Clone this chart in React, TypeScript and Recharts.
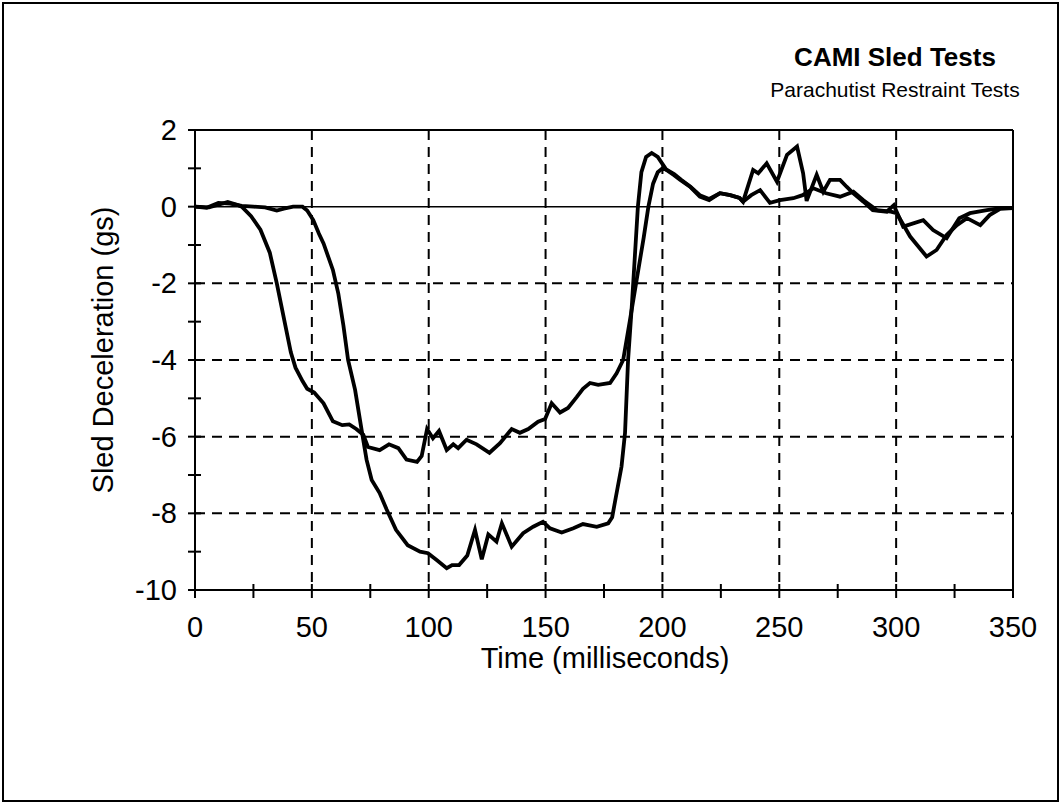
import React from "react";
import { LineChart, Line, XAxis, YAxis, CartesianGrid, ReferenceLine } from "recharts";

// Test with the early onset (shallower plateau around -6 g)
const timeA = [
  0, 6, 10, 14, 18, 20, 24, 28, 32, 35, 37, 39, 41, 43, 46, 48, 51, 55, 59, 63,
  66, 69, 72, 74, 79, 83, 87, 90.5, 95, 97, 99.3, 101.8, 104.4, 107.7, 110.5, 112.6, 116.2, 120.5, 126, 130.5,
  135.5, 139, 142.6, 146.8, 149.8, 152.6, 156.2, 159.6, 163.3, 166, 169, 172.5, 177.6, 180.4, 183.2, 186, 189, 192, 194, 196,
  198, 200, 202, 205, 208, 212, 216, 220, 224.6, 229, 233, 234.5, 238, 241.8, 246, 250.3, 256, 260, 264.6, 270,
  276, 281.7, 286, 291.7, 297.7, 300.2, 306, 313, 317.3, 321.6, 326, 330.3, 336, 340, 344.5, 350,
];
const decelA = [
  0, -0.02, 0.05, 0.12, 0.05, 0, -0.25, -0.6, -1.2, -2.0, -2.6, -3.2, -3.8, -4.2, -4.55, -4.75, -4.85, -5.13, -5.6, -5.7,
  -5.68, -5.8, -5.95, -6.27, -6.35, -6.2, -6.3, -6.6, -6.66, -6.5, -5.8, -6.04, -5.85, -6.35, -6.2, -6.3, -6.08, -6.2, -6.42, -6.17,
  -5.8, -5.9, -5.8, -5.61, -5.54, -5.13, -5.37, -5.25, -4.97, -4.75, -4.6, -4.65, -4.6, -4.35, -4.0, -3.0, -1.9, -0.8, 0, 0.6,
  0.9, 1.0, 0.96, 0.85, 0.7, 0.52, 0.3, 0.2, 0.35, 0.3, 0.23, 0.13, 0.3, 0.43, 0.1, 0.17, 0.22, 0.3, 0.48, 0.35,
  0.26, 0.39, 0.17, -0.09, -0.13, -0.17, -0.78, -1.3, -1.13, -0.74, -0.48, -0.3, -0.48, -0.22, -0.06, -0.04,
];

// Test with the late onset (deep plateau around -8.5 g)
const timeB = [
  0, 5, 10, 15, 20, 25, 30, 35, 38, 42, 46, 48, 50.6, 53, 55, 59, 61.3, 63.5, 65.5, 68.5,
  71.3, 73.4, 75.6, 79, 82, 86, 91, 96.3, 99.7, 103.4, 107.7, 110, 113, 116.5, 119.8, 122.7, 125.5, 129, 131.3, 135.5,
  140.4, 144.7, 148.9, 151.9, 156.9, 161.9, 166, 171.9, 176.8, 178.5, 180, 182.5, 184, 185.3, 187, 188.5, 189.5, 191, 193, 195.4,
  198, 201.7, 205, 207.5, 211.8, 216, 220, 224.6, 229, 233, 234.5, 238.8, 241, 244.6, 249, 253.3, 257.6, 260.2, 261.7, 266,
  268.8, 271.7, 276, 278.8, 281.7, 286, 290, 296, 299, 303, 311.6, 315.8, 321.6, 327, 331.6, 338.8, 344.5, 350,
];
const decelB = [
  0, -0.03, 0.1, 0.08, 0.02, 0, -0.02, -0.1, -0.05, 0, 0, -0.1, -0.35, -0.7, -0.96, -1.65, -2.26, -3.1, -4.0, -4.78,
  -5.83, -6.6, -7.13, -7.47, -7.9, -8.43, -8.83, -9.0, -9.04, -9.22, -9.43, -9.35, -9.35, -9.1, -8.43, -9.2, -8.55, -8.74, -8.26, -8.87,
  -8.52, -8.35, -8.22, -8.39, -8.5, -8.39, -8.28, -8.35, -8.26, -8.1, -7.6, -6.78, -5.9, -4.0, -2.5, -1.0, 0, 0.9, 1.3, 1.4,
  1.3, 0.96, 0.82, 0.7, 0.52, 0.26, 0.17, 0.35, 0.3, 0.23, 0.13, 0.96, 0.87, 1.13, 0.65, 1.35, 1.57, 0.87, 0.15, 0.83,
  0.39, 0.7, 0.7, 0.52, 0.35, 0.13, -0.09, -0.13, 0.04, -0.52, -0.35, -0.61, -0.82, -0.3, -0.17, -0.09, -0.04, -0.04,
];

const xTicks = [0, 25, 50, 75, 100, 125, 150, 175, 200, 225, 250, 275, 300, 325, 350];
const yTicks = [-10, -9, -8, -7, -6, -5, -4, -3, -2, -1, 0, 1, 2];
const xGrid = [50, 100, 150, 200, 250, 300];
const yGrid = [-8, -6, -4, -2];

const FONT = "'Liberation Sans', Arial, Helvetica, sans-serif";

const dataA = timeA.map((t, i) => ({ t, g: decelA[i] }));
const dataB = timeB.map((t, i) => ({ t, g: decelB[i] }));

function XTick({ x, y, payload }: any) {
  const v = payload.value as number;
  return (
    <g>
      <line x1={x} x2={x} y1={y - 6} y2={y + 8} stroke="#000" strokeWidth={2} />
      {v % 50 === 0 && (
        <text x={x} y={y + 47} textAnchor="middle" fontSize={29} fontFamily={FONT} fill="#000">
          {v}
        </text>
      )}
    </g>
  );
}

function YTick({ x, y, payload }: any) {
  const v = payload.value as number;
  return (
    <g>
      <line x1={x - 7} x2={x + 6} y1={y} y2={y} stroke="#000" strokeWidth={2} />
      {v % 2 === 0 && (
        <text x={x - 18} y={y + 10} textAnchor="end" fontSize={29} fontFamily={FONT} fill="#000">
          {v}
        </text>
      )}
    </g>
  );
}

export default function App() {
  return (
    <div style={{ position: "absolute", left: 0, top: 0, width: 1060, height: 802, background: "#fff", fontFamily: FONT }}>
      <div
        style={{
          position: "absolute",
          left: 2,
          top: 2,
          width: 1053,
          height: 796,
          border: "2px solid #000",
        }}
      />
      <div style={{ position: "absolute", left: 745, width: 300, top: 42, textAlign: "center", fontSize: 26, fontWeight: "bold" }}>
        CAMI Sled Tests
      </div>
      <div style={{ position: "absolute", left: 745, width: 300, top: 78, textAlign: "center", fontSize: 21 }}>
        Parachutist Restraint Tests
      </div>
      <LineChart
        width={1060}
        height={802}
        margin={{ top: 130, right: 47, left: 135, bottom: 152 }}
        style={{ position: "absolute", left: 0, top: 0 }}
      >
        <CartesianGrid
          stroke="#000"
          strokeWidth={2}
          strokeDasharray="10 7"
          verticalValues={xGrid}
          horizontalValues={yGrid}
        />
        <XAxis
          dataKey="t"
          type="number"
          domain={[0, 350]}
          ticks={xTicks}
          interval={0}
          allowDataOverflow
          height={60}
          tickSize={0}
          tickMargin={0}
          tickLine={false}
          axisLine={{ stroke: "#000", strokeWidth: 2 }}
          tick={<XTick />}
        />
        <YAxis
          type="number"
          domain={[-10, 2]}
          ticks={yTicks}
          interval={0}
          allowDataOverflow
          width={60}
          tickSize={0}
          tickMargin={0}
          tickLine={false}
          axisLine={{ stroke: "#000", strokeWidth: 2 }}
          tick={<YTick />}
        />
        <ReferenceLine y={0} stroke="#000" strokeWidth={1.5} />
        <ReferenceLine y={2} stroke="#000" strokeWidth={2} />
        <ReferenceLine x={350} stroke="#000" strokeWidth={2} />
        <Line
          data={dataA}
          dataKey="g"
          type="linear"
          stroke="#000"
          strokeWidth={3.8}
          dot={false}
          isAnimationActive={false}
        />
        <Line
          data={dataB}
          dataKey="g"
          type="linear"
          stroke="#000"
          strokeWidth={3.8}
          dot={false}
          isAnimationActive={false}
        />
      </LineChart>
      <div
        style={{
          position: "absolute",
          left: 103,
          top: 350,
          transform: "translate(-50%, -50%) rotate(-90deg)",
          whiteSpace: "nowrap",
          fontSize: 29,
        }}
      >
        Sled Deceleration (gs)
      </div>
      <div style={{ position: "absolute", left: 405, width: 400, top: 642, textAlign: "center", fontSize: 29 }}>
        Time (milliseconds)
      </div>
    </div>
  );
}
